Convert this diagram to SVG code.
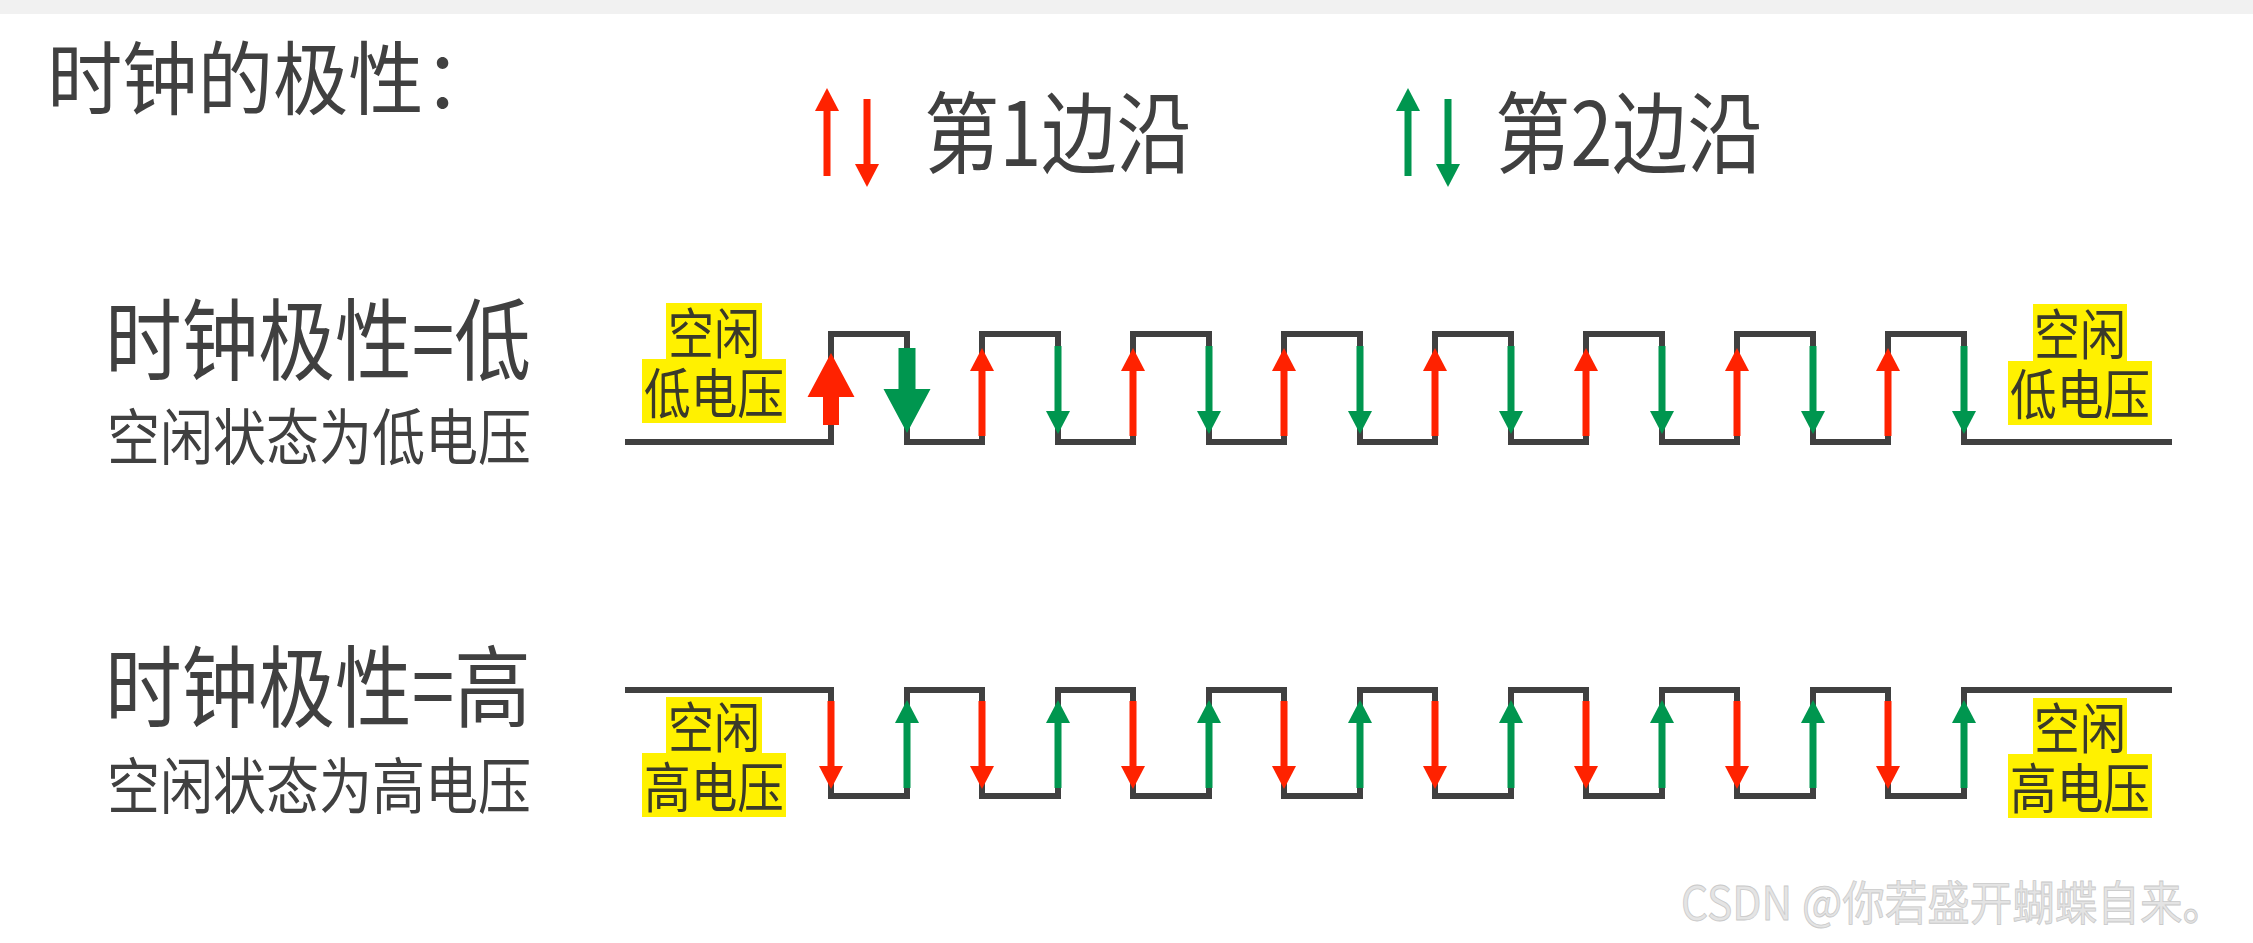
<svg xmlns="http://www.w3.org/2000/svg" xmlns:xlink="http://www.w3.org/1999/xlink" width="2253" height="943" viewBox="0 0 2253 943">
<style>
  text { font-family: "Noto Sans CJK SC", "Noto Sans", sans-serif; fill: #404040; }
  .wave { fill: none; stroke: #404040; stroke-width: 6; stroke-linejoin: miter; stroke-linecap: butt; }
  .r { fill: #FF2200; }
  .g { fill: #00964F; }
  .hl { fill: #FFF100; }
  .hlt { font-size: 54px; fill: #3a3a2a; text-anchor: middle; }
  .ttl { font-size: 80px; }
  .big { font-size: 89px; }
  .sub { font-size: 61px; }
  .leg { font-size: 89px; }
  .wm { font-size: 47px; fill: #e4e4e4; stroke: #c9c9c9; stroke-width: 0.8; text-anchor: end; }
</style>
<defs>
  <g id="up"><rect x="-3.5" y="21" width="7" height="67"/><path d="M-12,23 L0,0 L12,23 Z"/></g>
  <g id="dn"><rect x="-3.5" y="0" width="7" height="67"/><path d="M-12,65 L0,88 L12,65 Z"/></g>
</defs>
<rect x="0" y="0" width="2253" height="943" fill="#ffffff"/>
<rect x="0" y="0" width="2253" height="14" fill="#f1f1f1"/>

<g id="title">
  <text x="47" y="108" class="ttl" textLength="452" lengthAdjust="spacingAndGlyphs">时钟的极性：</text>
</g>

<g id="legend1">
  <use xlink:href="#up" x="827" y="88" class="r"/>
  <use xlink:href="#dn" x="867" y="99" class="r"/>
  <text x="924" y="166" class="leg" textLength="268" lengthAdjust="spacingAndGlyphs">第1边沿</text>
</g>
<g id="legend2">
  <use xlink:href="#up" x="1408" y="88" class="g"/>
  <use xlink:href="#dn" x="1448" y="99" class="g"/>
  <text x="1495" y="166" class="leg" textLength="268" lengthAdjust="spacingAndGlyphs">第2边沿</text>
</g>

<g id="row1-label">
  <text x="105" y="373" class="big" textLength="426" lengthAdjust="spacingAndGlyphs">时钟极性=低</text>
  <text x="107" y="460" class="sub" textLength="424" lengthAdjust="spacingAndGlyphs">空闲状态为低电压</text>
</g>
<g id="row2-label">
  <text x="105" y="720" class="big" textLength="426" lengthAdjust="spacingAndGlyphs">时钟极性=高</text>
  <text x="107" y="809" class="sub" textLength="424" lengthAdjust="spacingAndGlyphs">空闲状态为高电压</text>
</g>

<g id="connectors">
  <path id="wave1" class="wave" d="M625,442 H831 V334 H907 V442 H982 V334 H1058 V442 H1133 V334 H1209 V442 H1284 V334 H1360 V442 H1435 V334 H1511 V442 H1586 V334 H1662 V442 H1737 V334 H1813 V442 H1888 V334 H1964 V442 H2172"/>
  <path id="wave2" class="wave" d="M625,690 H831 V796 H907 V690 H982 V796 H1058 V690 H1133 V796 H1209 V690 H1284 V796 H1360 V690 H1435 V796 H1511 V690 H1586 V796 H1662 V690 H1737 V796 H1813 V690 H1888 V796 H1964 V690 H2172"/>
</g>

<g id="row1-arrows">
  <path class="r" d="M823,425 V397 H807.5 L831,353 L854.5,397 H839 V425 Z"/>
  <path class="g" d="M898.5,348 V389 H883.5 L907,433 L930.5,389 H915.5 V348 Z"/>
  <use xlink:href="#up" x="982" y="348" class="r"/>
  <use xlink:href="#up" x="1133" y="348" class="r"/>
  <use xlink:href="#up" x="1284" y="348" class="r"/>
  <use xlink:href="#up" x="1435" y="348" class="r"/>
  <use xlink:href="#up" x="1586" y="348" class="r"/>
  <use xlink:href="#up" x="1737" y="348" class="r"/>
  <use xlink:href="#up" x="1888" y="348" class="r"/>
  <use xlink:href="#dn" x="1058" y="346" class="g"/>
  <use xlink:href="#dn" x="1209" y="346" class="g"/>
  <use xlink:href="#dn" x="1360" y="346" class="g"/>
  <use xlink:href="#dn" x="1511" y="346" class="g"/>
  <use xlink:href="#dn" x="1662" y="346" class="g"/>
  <use xlink:href="#dn" x="1813" y="346" class="g"/>
  <use xlink:href="#dn" x="1964" y="346" class="g"/>
</g>

<g id="row2-arrows">
  <use xlink:href="#dn" x="831" y="701" class="r"/>
  <use xlink:href="#dn" x="982" y="701" class="r"/>
  <use xlink:href="#dn" x="1133" y="701" class="r"/>
  <use xlink:href="#dn" x="1284" y="701" class="r"/>
  <use xlink:href="#dn" x="1435" y="701" class="r"/>
  <use xlink:href="#dn" x="1586" y="701" class="r"/>
  <use xlink:href="#dn" x="1737" y="701" class="r"/>
  <use xlink:href="#dn" x="1888" y="701" class="r"/>
  <use xlink:href="#up" x="907" y="700" class="g"/>
  <use xlink:href="#up" x="1058" y="700" class="g"/>
  <use xlink:href="#up" x="1209" y="700" class="g"/>
  <use xlink:href="#up" x="1360" y="700" class="g"/>
  <use xlink:href="#up" x="1511" y="700" class="g"/>
  <use xlink:href="#up" x="1662" y="700" class="g"/>
  <use xlink:href="#up" x="1813" y="700" class="g"/>
  <use xlink:href="#up" x="1964" y="700" class="g"/>
</g>

<g id="idle1-left">
  <rect class="hl" x="666" y="303" width="96" height="58"/>
  <rect class="hl" x="642" y="359" width="144" height="64"/>
  <text class="hlt"><tspan x="714" y="354" textLength="92" lengthAdjust="spacingAndGlyphs">空闲</tspan><tspan x="714" y="414" textLength="140" lengthAdjust="spacingAndGlyphs">低电压</tspan></text>
</g>
<g id="idle1-right">
  <rect class="hl" x="2033" y="304" width="94" height="59"/>
  <rect class="hl" x="2008" y="361" width="144" height="64"/>
  <text class="hlt"><tspan x="2080" y="355" textLength="92" lengthAdjust="spacingAndGlyphs">空闲</tspan><tspan x="2080" y="415" textLength="140" lengthAdjust="spacingAndGlyphs">低电压</tspan></text>
</g>
<g id="idle2-left">
  <rect class="hl" x="666" y="697" width="96" height="57"/>
  <rect class="hl" x="642" y="753" width="144" height="64"/>
  <text class="hlt"><tspan x="714" y="748" textLength="92" lengthAdjust="spacingAndGlyphs">空闲</tspan><tspan x="714" y="808" textLength="140" lengthAdjust="spacingAndGlyphs">高电压</tspan></text>
</g>
<g id="idle2-right">
  <rect class="hl" x="2033" y="698" width="94" height="57"/>
  <rect class="hl" x="2008" y="754" width="144" height="64"/>
  <text class="hlt"><tspan x="2080" y="749" textLength="92" lengthAdjust="spacingAndGlyphs">空闲</tspan><tspan x="2080" y="809" textLength="140" lengthAdjust="spacingAndGlyphs">高电压</tspan></text>
</g>

<g id="watermark">
  <text x="2225" y="920" class="wm" textLength="544" lengthAdjust="spacingAndGlyphs">CSDN @你若盛开蝴蝶自来。</text>
</g>
</svg>
